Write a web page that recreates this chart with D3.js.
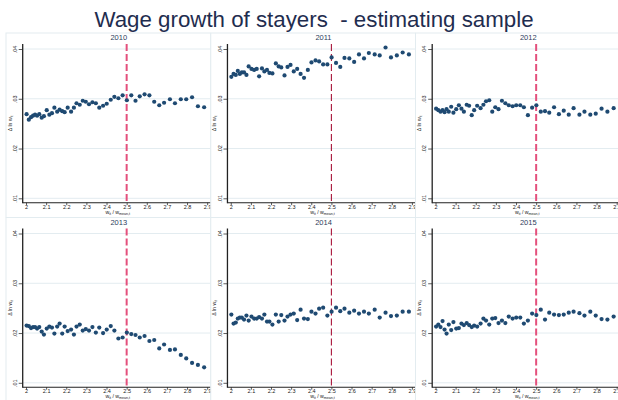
<!DOCTYPE html>
<html>
<head>
<meta charset="utf-8">
<script src="https://cdn.jsdelivr.net/npm/d3@7"></script>
<style>
  html, body { margin: 0; padding: 0; background: #ffffff; }
  svg { display: block; }
</style>
</head>
<body>
<script>
// Panel years, in reading order
const years = ["2010", "2011", "2012", "2013", "2014", "2015"];

// Bin means of w_it / w_mean (shared by all years)
const binMeans = [2.003, 2.014, 2.025, 2.035, 2.045, 2.055, 2.066, 2.078, 2.089, 2.103,
                  2.116, 2.129, 2.141, 2.155, 2.167, 2.180, 2.192, 2.207, 2.224, 2.238,
                  2.251, 2.267, 2.282, 2.297, 2.313, 2.330, 2.347, 2.364, 2.383, 2.401,
                  2.421, 2.439, 2.459, 2.480, 2.501, 2.523, 2.544, 2.565, 2.589, 2.613,
                  2.637, 2.662, 2.686, 2.715, 2.740, 2.769, 2.796, 2.825, 2.854, 2.885];

// Mean wage growth (Δ ln w_it) of stayers in each bin, by year
const growth2010 = [.0269, .0258, .0263, .0266, .0268, .0266, .0269, .0262, .0265, .0277,
                    .0268, .0271, .0282, .0274, .0278, .0275, .0273, .0282, .0274, .0282,
                    .0291, .0288, .0296, .0294, .0289, .0293, .0291, .0282, .0286, .0290,
                    .0298, .0304, .0301, .0307, .0297, .0307, .0296, .0305, .0309, .0307,
                    .0294, .0287, .0292, .0299, .0291, .0299, .0299, .0303, .0285, .0283];
const growth2011 = [.0344, .0350, .0348, .0356, .0350, .0353, .0353, .0348, .0365, .0360,
                    .0358, .0360, .0345, .0361, .0355, .0358, .0352, .0351, .0371, .0365,
                    .0363, .0347, .0364, .0368, .0355, .0360, .0350, .0342, .0358, .0373,
                    .0377, .0375, .0369, .0369, .0383, .0372, .0364, .0382, .0381, .0374,
                    .0389, .0381, .0392, .0389, .0387, .0403, .0383, .0387, .0393, .0389];
const growth2012 = [.0280, .0277, .0274, .0277, .0273, .0279, .0274, .0284, .0272, .0279,
                    .0287, .0280, .0274, .0288, .0286, .0267, .0277, .0286, .0281, .0288,
                    .0295, .0297, .0274, .0283, .0279, .0296, .0291, .0287, .0285, .0287,
                    .0287, .0283, .0267, .0282, .0287, .0274, .0275, .0272, .0283, .0269,
                    .0276, .0268, .0281, .0268, .0274, .0268, .0270, .0280, .0274, .0281];
const growth2013 = [.0215, .0214, .0210, .0212, .0212, .0209, .0212, .0203, .0197, .0209,
                    .0213, .0211, .0199, .0213, .0219, .0199, .0213, .0204, .0207, .0197,
                    .0213, .0217, .0205, .0208, .0205, .0212, .0201, .0211, .0200, .0207,
                    .0214, .0205, .0189, .0191, .0201, .0198, .0196, .0191, .0194, .0184,
                    .0186, .0169, .0177, .0166, .0167, .0156, .0149, .0140, .0136, .0131];
const growth2014 = [.0237, .0219, .0221, .0229, .0231, .0231, .0227, .0235, .0225, .0233,
                    .0229, .0229, .0232, .0229, .0237, .0223, .0223, .0217, .0237, .0223,
                    .0236, .0225, .0233, .0237, .0239, .0226, .0247, .0229, .0228, .0243,
                    .0239, .0249, .0251, .0235, .0243, .0251, .0244, .0249, .0241, .0245,
                    .0239, .0243, .0239, .0247, .0231, .0241, .0234, .0235, .0243, .0243];
const growth2015 = [.0213, .0217, .0212, .0224, .0207, .0199, .0217, .0206, .0222, .0209,
                    .0210, .0219, .0216, .0220, .0216, .0212, .0215, .0213, .0219, .0229,
                    .0225, .0217, .0229, .0230, .0220, .0225, .0220, .0233, .0229, .0231,
                    .0231, .0219, .0225, .0239, .0236, .0247, .0227, .0241, .0237, .0236,
                    .0237, .0241, .0243, .0240, .0235, .0243, .0235, .0228, .0227, .0233];
const growthByYear = [growth2010, growth2011, growth2012, growth2013, growth2014, growth2015];

// Axis ticks and labels
const xTicks = [2, 2.1, 2.2, 2.3, 2.4, 2.5, 2.6, 2.7, 2.8, 2.9];
const xTickLabels = ["2", "2.1", "2.2", "2.3", "2.4", "2.5", "2.6", "2.7", "2.8", "2.9"];
const yTicks = [0.01, 0.02, 0.03, 0.04];
const yTickLabels = [".01", ".02", ".03", ".04"];

// Threshold marked by the vertical reference line
const cutoff = [2.5];

const W = 618, H = 400;
const font = "'Liberation Sans', Arial, Helvetica, sans-serif";
const navy = "#1f4a72";
const textCol = "#1f2d4f";
const gridCol = "#e3ecf0";

const svg = d3.select("body").append("svg")
  .attr("width", W).attr("height", H)
  .style("font-family", font);

svg.append("rect").attr("width", W).attr("height", H).attr("fill", "#ffffff");

// Overall title
svg.append("text")
  .attr("x", 314).attr("y", 26.5)
  .attr("text-anchor", "middle")
  .attr("font-size", 22.3)
  .attr("fill", textCol)
  .style("white-space", "pre")
  .attr("xml:space", "preserve")
  .text("Wage growth of stayers  - estimating sample");

// Panel geometry
const panelW = 204.75, panelH = 184.5, originX = 6, originY = 33;
const axisX = 16.7, plotTop = 11, axisY = 169.7;

const x = d3.scaleLinear().domain([2, 2.9]).range([20, 20 + 9 * 20.13]);
const y = d3.scaleLinear().domain([0.01, 0.04]).range([165.3, 16]);

// Cutoff line styles: thin dark red on two panels, wider pink elsewhere
const thinCutoff = new Set(["2011", "2014"]);

const defs = svg.append("defs");

years.forEach((yr, i) => {
  const col = i % 3, row = Math.floor(i / 3);
  const gx = originX + col * panelW, gy = originY + row * panelH;

  defs.append("clipPath").attr("id", "clip" + i)
    .append("rect").attr("x", -2).attr("y", -1).attr("width", panelW + 2).attr("height", panelH + 1);

  const g = svg.append("g")
    .attr("transform", `translate(${gx},${gy})`)
    .attr("clip-path", `url(#clip${i})`);

  // panel outline
  g.append("rect")
    .attr("x", 0).attr("y", 0).attr("width", panelW).attr("height", panelH)
    .attr("fill", "none").attr("stroke", gridCol).attr("stroke-width", 1);

  // panel title
  g.append("text")
    .attr("x", (axisX + panelW) / 2 + 2).attr("y", 7.2)
    .attr("text-anchor", "middle")
    .attr("font-size", 7.5)
    .attr("fill", "#2e3d5c")
    .text(yr);

  // horizontal grid
  g.selectAll("line.grid").data(yTicks).join("line")
    .attr("class", "grid")
    .attr("x1", axisX).attr("x2", panelW)
    .attr("y1", d => y(d)).attr("y2", d => y(d))
    .attr("stroke", gridCol).attr("stroke-width", 1);

  // y axis
  const yAxis = d3.axisLeft(y).tickValues(yTicks).tickSize(4)
    .tickFormat((d, j) => yTickLabels[j]);
  const ya = g.append("g").attr("transform", `translate(${axisX},0)`).call(yAxis);
  ya.select(".domain").remove();
  ya.selectAll(".tick line").attr("stroke", "#333").attr("stroke-width", 0.8);
  ya.selectAll(".tick text")
    .attr("x", null).attr("dy", null)
    .attr("transform", "translate(-5.8,0) rotate(-90)")
    .attr("text-anchor", "middle")
    .attr("font-size", 5.5)
    .attr("font-family", font)
    .attr("fill", "#222");
  g.append("line")
    .attr("x1", axisX).attr("x2", axisX)
    .attr("y1", plotTop).attr("y2", axisY + 0.5)
    .attr("stroke", "#222").attr("stroke-width", 1.3);

  // x axis
  const xAxis = d3.axisBottom(x).tickValues(xTicks).tickSize(2.5)
    .tickFormat((d, j) => xTickLabels[j]);
  const xa = g.append("g").attr("transform", `translate(0,${axisY})`).call(xAxis);
  xa.select(".domain").remove();
  xa.selectAll(".tick line").attr("stroke", "#333").attr("stroke-width", 0.8);
  xa.selectAll(".tick text")
    .attr("y", 6).attr("dy", null)
    .attr("font-size", 5.5)
    .attr("font-family", font)
    .attr("fill", "#222");
  g.append("line")
    .attr("x1", axisX).attr("x2", panelW)
    .attr("y1", axisY).attr("y2", axisY)
    .attr("stroke", "#222").attr("stroke-width", 1.1);

  // axis titles
  const xt = g.append("text")
    .attr("x", (axisX + panelW) / 2 + 1).attr("y", 180.5)
    .attr("text-anchor", "middle")
    .attr("font-size", 5.2)
    .attr("fill", "#222");
  xt.append("tspan").text("w");
  xt.append("tspan").attr("font-size", 3.6).attr("dy", 1.2).text("it");
  xt.append("tspan").attr("dy", -1.2).text(" / w");
  xt.append("tspan").attr("font-size", 3.6).attr("dy", 1.2).text("mean,t");

  const yt = g.append("text")
    .attr("transform", `translate(5.5,${(plotTop + axisY) / 2}) rotate(-90)`)
    .attr("text-anchor", "middle")
    .attr("font-size", 5.2)
    .attr("fill", "#222");
  yt.append("tspan").text("Δ ln w");
  yt.append("tspan").attr("font-size", 3.6).attr("dy", 1.2).text("it");

  // cutoff reference line
  const thin = thinCutoff.has(yr);
  g.selectAll("line.cut").data(cutoff).join("line")
    .attr("class", "cut")
    .attr("x1", d => x(d)).attr("x2", d => x(d))
    .attr("y1", plotTop).attr("y2", axisY)
    .attr("stroke", thin ? "#a8163a" : "#e4507c")
    .attr("stroke-width", thin ? 1.1 : 2)
    .attr("stroke-dasharray", "7,3");

  // binned scatter
  const pts = binMeans.map((b, j) => ({ b, v: growthByYear[i][j] }));
  g.selectAll("circle.pt").data(pts).join("circle")
    .attr("class", "pt")
    .attr("cx", d => x(d.b)).attr("cy", d => y(d.v))
    .attr("r", 2.1)
    .attr("fill", navy);
});
</script>
</body>
</html>
